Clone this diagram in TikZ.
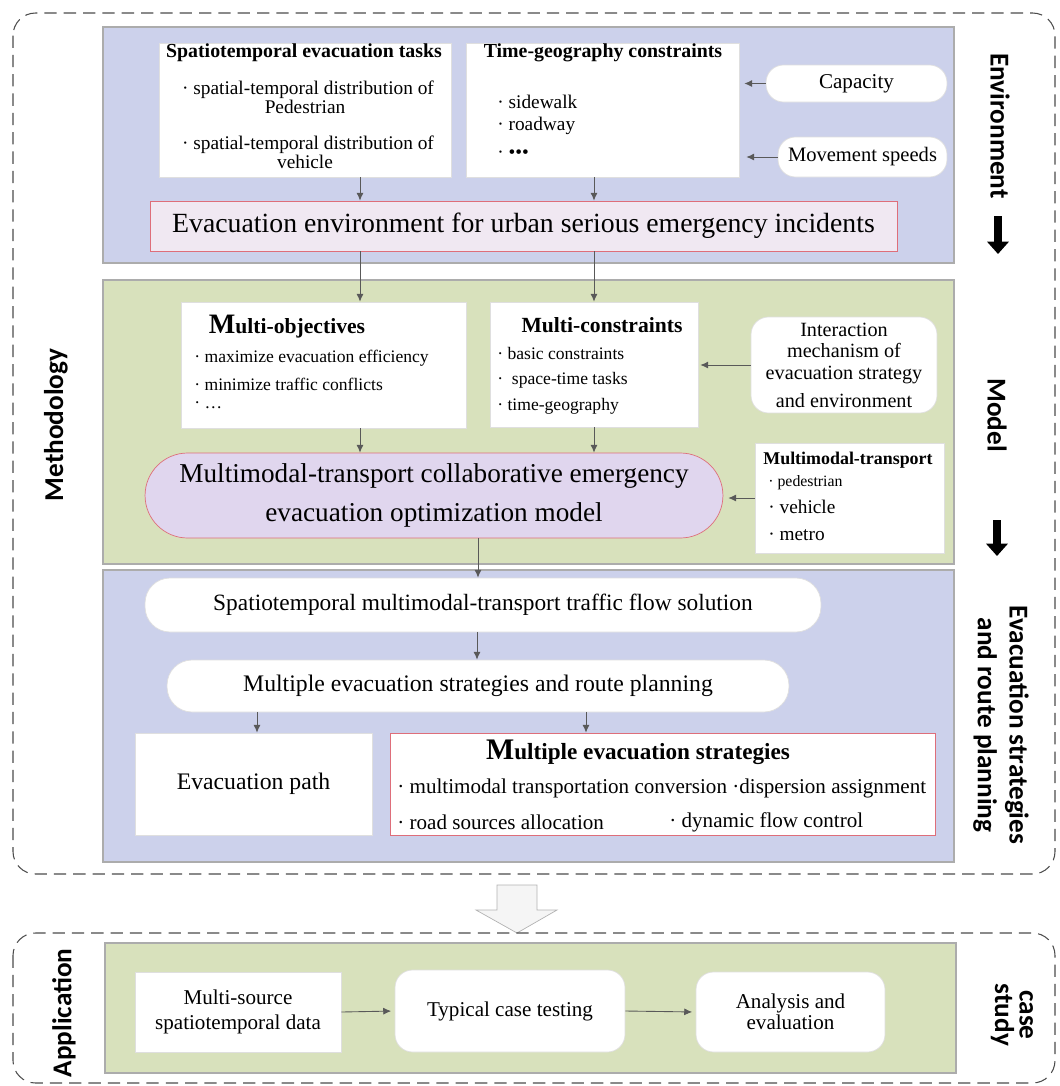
\documentclass[tikz,border=0pt]{standalone}
\usepackage{fontspec}
\setmainfont{Liberation Serif}
\newfontfamily\labfont{Carlito}
\usepackage{tikz}
\usetikzlibrary{arrows.meta}
\usepackage{xcolor}
\definecolor{envblue}{RGB}{204,209,235}
\definecolor{modgreen}{RGB}{216,225,188}
\definecolor{envpink}{RGB}{240,232,242}
\definecolor{modlilac}{RGB}{224,214,238}
\definecolor{edgered}{RGB}{222,110,122}

\begin{document}
\begin{tikzpicture}[x=0.02cm, y=-0.02cm,
  wbox/.style={draw=gray!25, fill=white, inner sep=0pt},
  rbox/.style={wbox, rounded corners=0.35cm},
  panel/.style={draw=gray!65, line width=0.6pt},
  dashbox/.style={draw=gray!60!black, dash pattern=on 7pt off 4pt, rounded corners=0.45cm, line width=0.6pt},
  arr/.style={draw=gray!70!black, line width=0.5pt, -{Latex[length=4.5pt,width=4pt]}},
  bigarr/.style={line width=4pt, -{Triangle[length=7pt,width=12pt]}},
  lab/.style={font=\labfont\bfseries\fontsize{15.5}{18}\selectfont, align=center, inner sep=0pt},
  head/.style={font=\bfseries\fontsize{11.3}{12}\selectfont, inner sep=0pt},
  item/.style={font=\fontsize{11}{12}\selectfont, inner sep=0pt},
  small/.style={font=\fontsize{10}{12}\selectfont, inner sep=0pt, anchor=west}]

\useasboundingbox (0,0) rectangle (1059,1086);

\coordinate (ca) at (360,0);
\coordinate (cb) at (594,0);
\coordinate (cc) at (478,0);
\coordinate (cd) at (477,0);
\coordinate (ce) at (257,0);
\coordinate (cf) at (586,0);

% methodology frame
\draw[dashbox] (13,13) rectangle (1055,874);
\node[lab, rotate=90] (methlab) at (56,425) {Methodology};

% environment
\draw[panel, fill=envblue] (103,27) rectangle (954,263);
\node[wbox, minimum width=5.84cm, minimum height=2.68cm] (tasks) at (305,110) {};
\node[head] (taskt) at (304,53) {Spatiotemporal evacuation tasks};
\node[item] (task1) at (308,90) {· spatial-temporal distribution of};
\node[item] (task2) at (305,107) {Pedestrian};
\node[item] (task3) at (308,145) {· spatial-temporal distribution of};
\node[item] (task4) at (305,162) {vehicle};
\node[wbox, minimum width=5.46cm, minimum height=2.68cm] (time) at (602.5,110) {};
\node[head] (timet) at (603,53) {Time-geography constraints};
\node[item, anchor=west] (time1) at (497,102) {· sidewalk};
\node[item, anchor=west] (time2) at (497,126) {· roadway};
\node[item, anchor=west] (time3) at (497,154) {· •••};
\node[rbox, minimum width=3.62cm, minimum height=0.74cm, font=\fontsize{12}{12}\selectfont] (cap) at (856.5,83.5) {Capacity};
\node[rbox, minimum width=3.38cm, minimum height=0.8cm, font=\fontsize{11.7}{12}\selectfont] (speed) at (862.5,157) {Movement speeds};
\draw[arr] (cap.west) -- ([xshift=0.1cm]time.east |- cap.west);
\draw[arr] (speed.west) -- ([xshift=0.14cm]time.east |- speed.west);
\node[draw=edgered, fill=envpink, inner sep=0pt, minimum width=14.94cm, minimum height=1cm, font=\fontsize{15.8}{16}\selectfont] (envbox) at (523.5,226) {Evacuation environment for urban serious emergency incidents};
\draw[arr] (tasks.south -| ca) -- (envbox.north -| ca);
\draw[arr] (time.south -| cb) -- (envbox.north -| cb);
\node[lab, rotate=-90] (envlab) at (1000,126) {Environment};
\coordinate (envtop) at (998,216);
\coordinate (envbot) at (998,254);
\draw[bigarr] (envtop) -- (envbot);

% model
\draw[panel, fill=modgreen] (103,280) rectangle (954,564);
\node[wbox, minimum width=5.7cm, minimum height=2.52cm] (objs) at (323.5,365) {};
\node[inner sep=0pt, font=\bfseries\fontsize{12.3}{12}\selectfont] (objt) at (287,327) {{\fontsize{16}{16}\selectfont M}ulti-objectives};
\node[small] (obj1) at (194,358) {· maximize evacuation efficiency};
\node[small] (obj2) at (194,384) {· minimize traffic conflicts};
\node[small] (obj3) at (194,405) {· …};
\node[wbox, minimum width=4.16cm, minimum height=2.5cm] (cons) at (594,364.5) {};
\node[inner sep=0pt, font=\bfseries\fontsize{12.3}{12}\selectfont] (const) at (602,325) {Multi-constraints};
\node[small] (cons1) at (497,353) {· basic constraints};
\node[small] (cons2) at (497,380) {· \ space-time tasks};
\node[small] (cons3) at (497,406) {· time-geography};
\node[rbox, minimum width=3.72cm, minimum height=1.92cm, align=center, font=\fontsize{11.5}{12.5}\selectfont] (inter) at (844,365) {Interaction\\mechanism of\\evacuation strategy\\[3pt]and environment};
\draw[arr] (inter.west) -- ([xshift=0.04cm]cons.east |- inter.west);
\draw[arr] (envbox.south -| ca) -- (objs.north -| ca);
\draw[arr] (envbox.south -| cb) -- (cons.north -| cb);
\node[draw=edgered, fill=modlilac, inner sep=0pt, rounded corners=0.85cm, minimum width=11.56cm, minimum height=1.7cm, align=center, font=\fontsize{15.5}{22.5}\selectfont] (model) at (434,495.5) {Multimodal-transport collaborative emergency\\evacuation optimization model};
\draw[arr] (objs.south -| ca) -- (model.north -| ca);
\draw[arr] (cons.south -| cb) -- (model.north -| cb);
\node[wbox, minimum width=3.78cm, minimum height=2.2cm] (mtrans) at (849.5,498) {};
\node[inner sep=0pt, font=\bfseries\fontsize{10.2}{12}\selectfont] (mtranst) at (848,460) {Multimodal-transport};
\node[inner sep=0pt, anchor=west, font=\fontsize{9}{10}\selectfont] (mt1) at (768,483) {· pedestrian};
\node[item, anchor=west] (mt2) at (768,507) {· vehicle};
\node[item, anchor=west] (mt3) at (768,535) {· metro};
\draw[arr] (mtrans.west) -- ([xshift=0.1cm]model.east |- mtrans.west);
\node[lab, rotate=-90] (modlab) at (997,415) {Model};
\coordinate (modtop) at (997,520);
\coordinate (modbot) at (997,556);
\draw[bigarr] (modtop) -- (modbot);

% evacuation strategies
\draw[panel, fill=envblue] (103,570) rectangle (954,862);
\node[rbox, rounded corners=0.5cm, minimum width=13.52cm, minimum height=1.08cm, font=\fontsize{13.3}{14}\selectfont] (flow) at (483,605) {Spatiotemporal multimodal-transport traffic flow solution};
\node[rbox, rounded corners=0.5cm, minimum width=12.44cm, minimum height=1.04cm, font=\fontsize{13.5}{14}\selectfont] (plan) at (478,686) {Multiple evacuation strategies and route planning};
\draw[arr] (model.south -| cc) -- (flow.north -| cc);
\draw[arr] (flow.south -| cd) -- (plan.north -| cd);
\node[wbox, minimum width=4.74cm, minimum height=2.04cm, font=\fontsize{13.5}{14}\selectfont] (path) at (253.5,784) {Evacuation path};
\node[draw=edgered, fill=white, inner sep=0pt, minimum width=10.9cm, minimum height=2.04cm] (strat) at (662.5,784) {};
\node[inner sep=0pt, font=\bfseries\fontsize{13.2}{14}\selectfont] (stratt) at (638,752) {{\fontsize{17}{17}\selectfont M}ultiple evacuation strategies};
\node[inner sep=0pt, anchor=west, font=\fontsize{12}{12}\selectfont] (strat1) at (397,788) {· multimodal transportation conversion ·dispersion assignment};
\node[inner sep=0pt, anchor=west, font=\fontsize{12}{12}\selectfont] (strat2) at (397,822) {· road sources allocation};
\node[inner sep=0pt, anchor=west, font=\fontsize{12}{12}\selectfont] (strat3) at (669,822) {· dynamic flow control};
\draw[arr] (plan.south -| ce) -- (path.north -| ce);
\draw[arr] (plan.south -| cf) -- (strat.north -| cf);
\node[lab, rotate=-90] (evaclab) at (1001,725) {Evacuation strategies\\and route planning};

% hollow arrow
\draw[draw=gray!60, fill=gray!8] (497,885) -- (537,885) -- (537,910) -- (557,910) -- (517,933) -- (476,910) -- (497,910) -- cycle;

% application
\draw[dashbox] (13,933) rectangle (1055,1083);
\node[lab, rotate=90] (applab) at (64,1013) {Application};
\draw[panel, fill=modgreen] (105,943) rectangle (956,1073);
\node[wbox, minimum width=4.12cm, minimum height=1.6cm, align=center, font=\fontsize{12}{14}\selectfont] (msrc) at (238,1012) {Multi-source\\spatiotemporal data};
\node[rbox, minimum width=4.6cm, minimum height=1.64cm, font=\fontsize{12}{14}\selectfont] (typical) at (510,1011) {Typical case testing};
\node[rbox, minimum width=3.78cm, minimum height=1.6cm, align=center, font=\fontsize{12}{12}\selectfont] (analysis) at (790.5,1012) {Analysis and\\evaluation};
\draw[arr, shorten >=2pt] (msrc.east) -- (typical.west);
\draw[arr, shorten >=2pt] (typical.east) -- (analysis.west);
\node[lab, rotate=-90, font=\labfont\bfseries\fontsize{15.5}{14}\selectfont] (caselab) at (1012,1015) {case\\study};
\end{tikzpicture}
\end{document}
